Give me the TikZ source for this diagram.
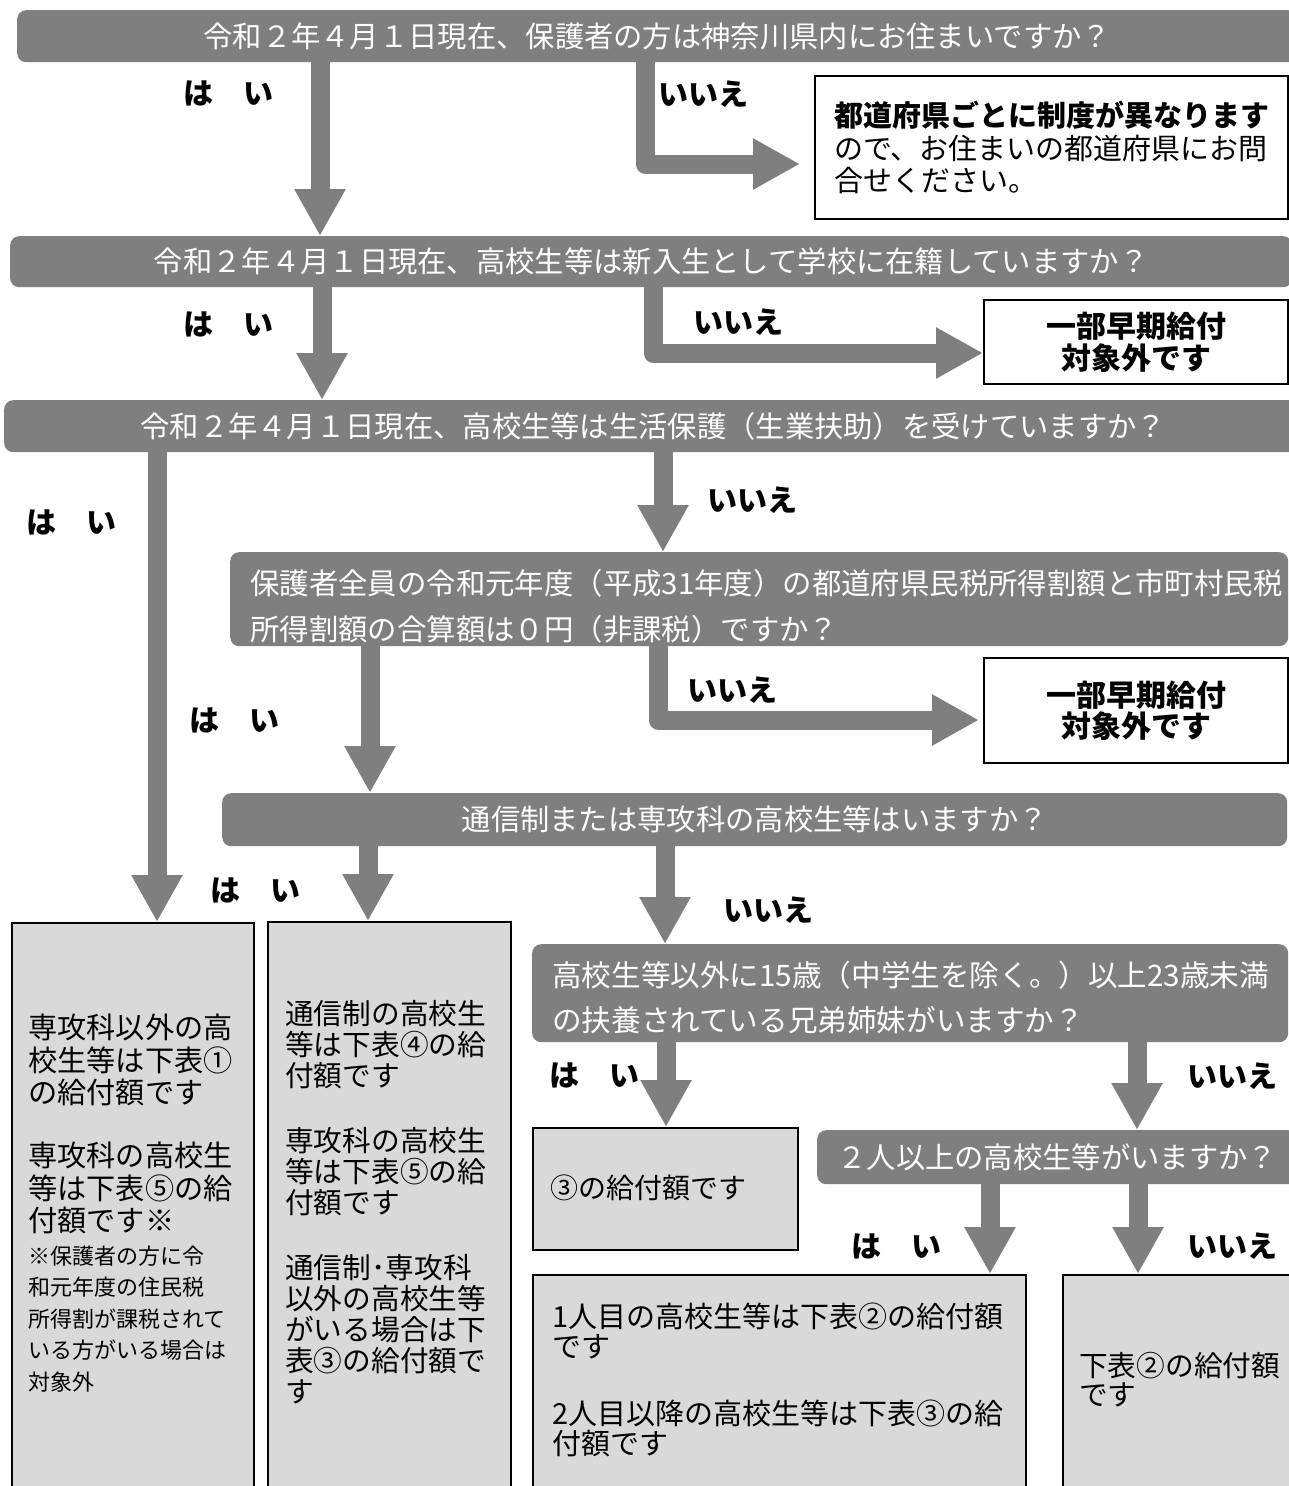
\documentclass[tikz,border=0pt]{standalone}
\usepackage{fontspec}
\setmainfont{Noto Sans CJK JP}
\usetikzlibrary{arrows.meta}
\definecolor{bargray}{RGB}{127,127,127}
\definecolor{boxgray}{RGB}{217,217,217}
\tikzset{
  bar/.style={fill=bargray, rounded corners=9pt, text=white, inner sep=0pt, anchor=north west, font=\fontsize{29.3}{34}\selectfont},
  bartext/.style={inner sep=0pt, anchor=north west, align=left, text=white},
  lbl/.style={inner sep=0pt, font=\fontsize{30}{34}\selectfont\bfseries},
  flow/.style={draw=bargray, line width=19pt, line join=round, -{Triangle[width=48pt,length=47pt]}},
  outbox/.style={draw=black, line width=2pt, fill=white, inner sep=0pt, anchor=north west},
  resbox/.style={draw=black, line width=2pt, fill=boxgray, inner sep=0pt, anchor=north west},
  txt/.style={inner sep=0pt, anchor=north west, align=left},
}
\begin{document}
\begin{tikzpicture}[x=1pt,y=-1pt]
\useasboundingbox (0,0) rectangle (1289,1486);
\clip (0,0) rectangle (1289,1486);
\fill[white] (0,0) rectangle (1289,1486);

% ---- question bars
\node[bar, minimum width=1280pt, minimum height=52pt] (q1) at (17,10) {令和２年４月１日現在、保護者の方は神奈川県内にお住まいですか？};
\node[bar, minimum width=1282pt, minimum height=51pt] (q2) at (10,236) {令和２年４月１日現在、高校生等は新入生として学校に在籍していますか？};
\node[bar, minimum width=1298pt, minimum height=52pt] (q3) at (4,400) {令和２年４月１日現在、高校生等は生活保護（生業扶助）を受けていますか？};
\node[bar, minimum width=1058pt, minimum height=94pt] (q4) at (230,552) {};
\node[bartext, font=\fontsize{29.4}{46}\selectfont] (q4t) at (250,569) {保護者全員の令和元年度（平成31年度）の都道府県民税所得割額と市町村民税\\所得割額の合算額は０円（非課税）ですか？};
\node[bar, minimum width=1065pt, minimum height=53pt] (q5) at (222,793) {通信制または専攻科の高校生等はいますか？};
\node[bar, minimum width=756pt, minimum height=98pt] (q6) at (532,944) {};
\node[bartext, font=\fontsize{29.6}{45}\selectfont] (q6t) at (552,961) {高校生等以外に15歳（中学生を除く。）以上23歳未満\\の扶養されている兄弟姉妹がいますか？};
\node[bar, minimum width=480pt, minimum height=54pt] (q7) at (817,1130) {２人以上の高校生等がいますか？};

% ---- answer boxes
\node[outbox, minimum width=473pt, minimum height=143pt, align=left, font=\fontsize{29}{32.5}\selectfont] (n1) at (814,75)
  {{\bfseries 都道府県ごとに制度が異なります}\\ので、お住まいの都道府県にお問\\合せください。};
\node[outbox, minimum width=304pt, minimum height=84pt, align=center, font=\fontsize{30}{32}\selectfont\bfseries] (n2) at (983,299)
  {一部早期給付\\対象外です};
\node[outbox, minimum width=304pt, minimum height=105pt, align=center, font=\fontsize{30}{31}\selectfont\bfseries] (n3) at (983,657)
  {一部早期給付\\対象外です};

\node[resbox, minimum width=242pt, minimum height=570pt] (bA) at (11,922) {};
\node[resbox, minimum width=243pt, minimum height=570pt] (bB) at (267,921) {};
\node[resbox, minimum width=265pt, minimum height=122pt] (b3) at (532,1127) {};
\node[resbox, minimum width=493pt, minimum height=220pt] (bC) at (532,1274) {};
\node[resbox, minimum width=240pt, minimum height=220pt] (bD) at (1062,1274) {};

\node[txt, font=\fontsize{29.2}{32.5}\selectfont] (tA1) at (28,1014)
  {専攻科以外の高\\校生等は下表①\\の給付額です\\[30.5pt]専攻科の高校生\\等は下表⑤の給\\付額です※};
\node[txt, font=\fontsize{22}{31.5}\selectfont] (tA2) at (28,1245.5)
  {※保護者の方に令\\和元年度の住民税\\所得割が課税されて\\いる方がいる場合は\\対象外};
\node[txt, font=\fontsize{28.7}{31}\selectfont] (tB) at (285,1000.2)
  {通信制の高校生\\等は下表④の給\\付額です\\[34pt]専攻科の高校生\\等は下表⑤の給\\付額です\\[34pt]通信制･専攻科\\以外の高校生等\\がいる場合は下\\表③の給付額で\\す};
\node[txt, font=\fontsize{28}{30}\selectfont] (t3) at (550,1174.5) {③の給付額です};
\node[txt, font=\fontsize{29}{29.5}\selectfont] (tC) at (552,1303)
  {1人目の高校生等は下表②の給付額\\です\\[38pt]2人目以降の高校生等は下表③の給\\付額です};
\node[txt, font=\fontsize{28.7}{29}\selectfont] (tD) at (1079,1352.2) {下表②の給付額\\です};

% ---- labels
\node[lbl] (l1y) at (228,94) {は　い};
\node[lbl] (l1n) at (703,94) {いいえ};
\node[lbl] (l2y) at (228,324) {は　い};
\node[lbl] (l2n) at (738,322) {いいえ};
\node[lbl] (l3y) at (72,522) {は　い};
\node[lbl] (l3n) at (752,500) {いいえ};
\node[lbl] (l4y) at (234,720) {は　い};
\node[lbl] (l4n) at (732,690) {いいえ};
\node[lbl] (l5y) at (255,890) {は　い};
\node[lbl] (l5n) at (768,910) {いいえ};
\node[lbl] (l6y) at (594,1075) {は　い};
\node[lbl] (l6n) at (1232,1076) {いいえ};
\node[lbl] (l7y) at (896,1246) {は　い};
\node[lbl] (l7n) at (1232,1246) {いいえ};

% ---- connectors
\coordinate (e1) at (800,164);
\coordinate (e3) at (979,720);
\draw[flow] (320,0 |- q1.south) -- (320,0 |- q2.north);
\draw[flow] (645,0 |- q1.south) |- (e1);
\draw[flow] (322,0 |- q2.south) -- (322,0 |- q3.north);
\draw[flow] (653,0 |- q2.south) |- (n2.west |- 0,353);
\draw[flow] (157,0 |- q3.south) -- (157,0 |- bA.north);
\draw[flow] (663,0 |- q3.south) -- (663,0 |- q4.north);
\draw[flow] (370,0 |- q4.south) -- (370,0 |- q5.north);
\draw[flow] (658,0 |- q4.south) |- (e3);
\draw[flow] (368,0 |- q5.south) -- (368,0 |- bB.north);
\draw[flow] (665,0 |- q5.south) -- (665,0 |- q6.north);
\draw[flow] (666,0 |- q6.south) -- (666,0 |- b3.north);
\draw[flow] (1137,0 |- q6.south) -- (1137,0 |- q7.north);
\draw[flow] (990,0 |- q7.south) -- (990,0 |- bC.north);
\draw[flow] (1138,0 |- q7.south) -- (1138,0 |- bD.north);
\end{tikzpicture}
\end{document}
